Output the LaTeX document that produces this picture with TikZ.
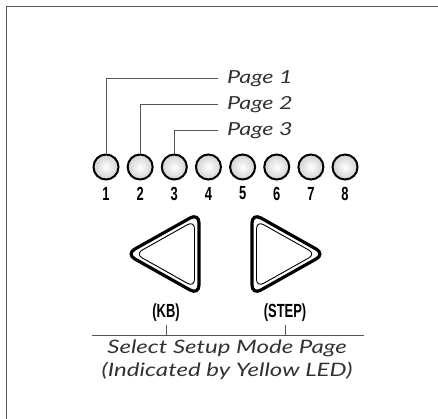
\documentclass[tikz,border=0pt]{standalone}
\usepackage{fontspec}
\usetikzlibrary{positioning}
\newfontfamily\labelfont{Lato}[FakeStretch=1.3]
\newfontfamily\numfont{Liberation Sans}[FakeStretch=0.68]
\definecolor{textGray}{RGB}{50, 50, 50}
\definecolor{lineGray}{RGB}{85, 85, 85}
\begin{document}
\begin{tikzpicture}[x=1pt, y=-1pt,
    led/.style={circle, draw=black, line width=2pt, minimum size=25pt, inner sep=0pt,
      inner color=white, outer color=black!18},
    ledlabel/.style={font=\numfont\bfseries\fontsize{19}{19}\selectfont, inner sep=0pt},
    pagelabel/.style={font=\labelfont\itshape\fontsize{18}{20}\selectfont, text=textGray,
      anchor=west, inner xsep=9pt, inner ysep=0pt},
    leader/.style={draw=lineGray, line width=1pt},
    btnouter/.style={draw=black, line width=3.2pt, rounded corners=10pt},
    btninner/.style={draw=black, line width=0.9pt, rounded corners=8pt},
    keylabel/.style={font=\numfont\bfseries\fontsize{19}{19}\selectfont, inner sep=3pt},
    caption/.style={font=\labelfont\itshape\fontsize{18.5}{23}\selectfont, text=textGray,
      align=center}]
  \useasboundingbox (0,0) rectangle (438,419);
  % frame (only top and left edges are inside the picture)
  \draw[lineGray, line width=1.5pt] (6.5,419) -- (6.5,6.5) -- (438,6.5);

  % LEDs 1..8 with their numbers
  \foreach \i in {1,...,8} {
    \node[led] (led\i) at ({106+(\i-1)*34.15}, 167) {};
    \node[ledlabel] (num\i) at ({106+(\i-1)*34.15}, 193.5) {\i};
  }

  % page labels
  \node[pagelabel] (page1) at (218, 79) {Page 1};
  \node[pagelabel] (page2) at (218, 105) {Page 2};
  \node[pagelabel] (page3) at (218, 131) {Page 3};
  \draw[leader] (led1.north) |- (page1.west);
  \draw[leader] (led2.north) |- (page2.west);
  \draw[leader] (led3.north) |- (page3.west);

  % left button (KB)
  \draw[btnouter] (126,254) -- (199,213) -- (199,295) -- cycle;
  \draw[btninner] (135.2,254) -- (194.5,220.7) -- (194.5,287.3) -- cycle;
  % right button (STEP)
  \draw[btnouter] (325,254) -- (252,213) -- (252,295) -- cycle;
  \draw[btninner] (315.8,254) -- (256.5,220.7) -- (256.5,287.3) -- cycle;

  % key names and bar
  \node[keylabel] (kb) at (166, 313) {(KB)};
  \node[keylabel] (step) at (285, 313) {(STEP)};
  \coordinate (barL) at (92, 335);
  \coordinate (barR) at (364, 335);
  \draw[leader] (barL) -- (barR);
  \draw[leader] (kb.south) -- (kb.south |- barL);
  \draw[leader] (step.south) -- (step.south |- barL);

  \node[caption] (caption) at (227, 360) {Select Setup Mode Page\\(Indicated by Yellow LED)};
\end{tikzpicture}
\end{document}
